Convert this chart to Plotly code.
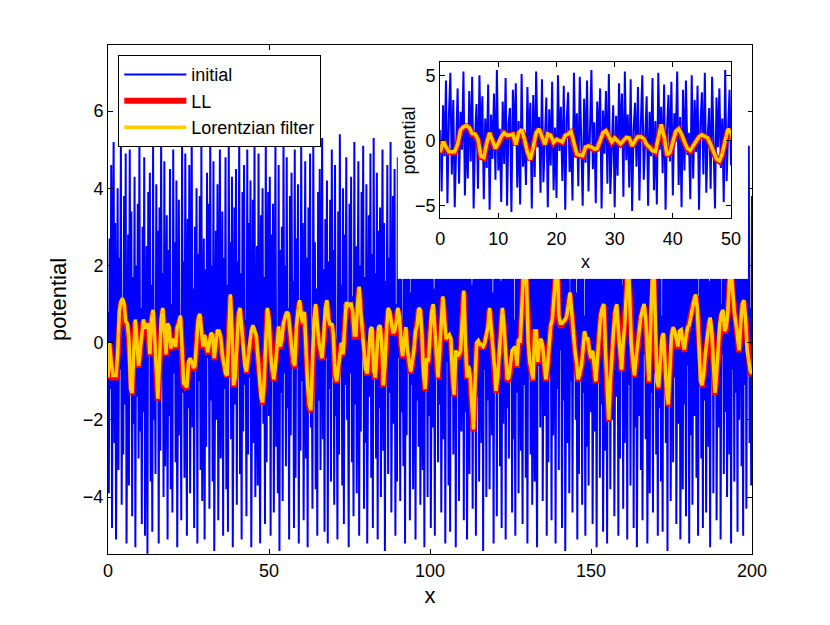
import numpy as np
import plotly.graph_objects as go

# initial random potential, sampled every 0.25 in x (0 .. 200)
initial = [
    0.8, -3.9, 2.7, -1.2, 4.6, -4.8, 1.9, 5.2, -2.6, 3.1, -5.1, 0.4, 4.0, -3.3, 2.2, -0.7, 5.3, -4.2, 1.1, -2.9,
    3.8, -1.6, 4.9, -5.2, 0.3, 2.8, -3.7, 5.0, -0.9, 3.4, -4.5, 1.7, -2.1, 4.3, -5.3, 2.0, -1.4, 3.6, -3.0, 5.4,
    -2.3, 0.9, -4.7, 3.0, -1.8, 4.8, -5.0, 1.3, 2.5, -5.47, 3.9, -0.2, 4.4, -3.6, 1.5, -4.9, 5.1, -2.0, 0.6, -3.4,
    4.1, -1.1, 2.9, -5.2, 3.5, -2.8, 5.3, -0.5, 1.8, -4.0, 4.7, -3.2, 0.1, 3.3, -5.1, 2.4, -1.9, 4.5, -3.8, 1.0,
    -4.4, 5.0, -0.8, 2.6, -3.1, 4.2, -5.3, 1.6, 3.7, -2.4, 0.5, -4.6, 5.2, -1.3, 2.1, -3.5, 4.9, -0.3, -5.0, 3.2,
    -1.7, 4.6, -3.9, 0.7, 5.4, -2.2, 1.4, -4.8, 3.0, -0.6, 4.0, -5.2, 2.3, -1.0, 3.8, -3.3, 5.1, -4.1, 0.2, 2.7,
    -5.1, 1.9, -2.7, 4.4, -0.4, 3.6, -4.3, 5.3, -1.5, 2.0, -3.6, 4.7, -5.4, 0.8, 2.9, -2.0, 4.1, -4.6, 1.2, 5.0,
    -3.0, 0.0, 3.4, -5.0, 2.2, -1.2, 4.8, -3.8, 1.5, -4.9, 5.2, -0.7, 2.6, -2.5, 4.3, -5.3, 0.9, 3.5, -1.6, 4.5,
    -4.2, 2.1, -0.1, 5.3, -3.4, 1.8, -5.1, 3.9, -2.3, 4.6, -1.1, 0.6, -4.5, 5.0, -2.9, 3.1, -0.9, 4.2, -5.3, 1.3,
    3.7, -2.6, 5.2, -4.0, 0.4, 2.5, -3.7, 4.9, -1.4, -5.2, 3.3, -0.5, 4.0, -2.1, 1.7, -4.7, 5.4, -3.1, 0.7, 3.9,
    -1.9, 4.3, -5.0, 2.8, -0.3, 3.6, -4.4, 1.0, 5.1, -2.7, 0.2, -3.9, 4.6, -5.4, 2.4, -1.3, 3.0, -4.1, 5.3, -0.8,
    2.0, -3.2, 4.8, -1.7, 0.9, -5.1, 3.8, -2.4, 4.4, -0.6, 1.6, -4.8, 5.0, -3.5, 2.7, -0.2, 4.1, -5.2, 1.1, -2.8,
    5.2, -1.0, 3.1, -4.6, 0.5, 4.7, -3.0, 2.2, -5.3, 3.5, -1.8, 4.9, -2.2, 0.3, -4.3, 5.1, -0.9, 2.6, -3.8, 1.4,
    -5.0, 3.9, -1.5, 4.5, -3.3, 0.8, 5.3, -2.5, 1.9, -4.9, 3.2, -0.4, 4.2, -5.2, 2.1, -1.2, 3.7, -3.6, 5.0, -0.7,
    2.4, -4.2, 4.6, -1.9, 0.1, -5.1, 3.4, -2.9, 5.4, -0.5, 1.5, -3.7, 4.0, -4.7, 2.8, -1.1, 4.8, -2.0, 0.6, -5.3,
    3.6, -0.8, 4.3, -3.1, 1.2, -4.5, 5.2, -1.6, 2.5, -3.9, 0.4, 4.7, -5.0, 2.0, -2.3, 3.9, -0.1, 5.1, -4.3, 1.7,
    -2.6, 4.1, -5.2, 0.9, 3.3, -1.4, 4.9, -3.5, 2.3, -4.8, 5.3, -0.6, 1.8, -3.0, 4.4, -5.1, 2.9, -1.7, 3.5, -4.0,
    0.7, 5.0, -2.8, 3.1, -5.4, 1.6, -0.9, 4.6, -3.4, 2.2, -1.3, 5.2, -4.4, 0.3, 3.8, -2.1, 4.5, -5.0, 1.0, -3.6,
    4.8, -0.4, 2.7, -4.1, 5.3, -1.8, 0.6, -3.2, 4.0, -5.2, 2.5, -2.4, 3.6, -0.7, 5.1, -4.6, 1.3, -1.1, 4.2, -3.8,
    0.2, 3.4, -5.1, 2.1, -1.5, 4.7, -2.7, 5.0, -4.2, 0.8, 3.0, -3.3, 1.9, -5.3, 4.4, -0.3, 2.6, -4.0, 5.2, -1.9,
    3.9, -4.8, 0.5, 4.1, -2.2, 1.4, -5.0, 3.7, -0.8, 5.3, -3.1, 2.4, -1.6, 4.6, -4.4, 0.9, 3.2, -2.5, 4.9, -5.2,
    1.7, -0.5, 4.3, -3.7, 2.0, -4.9, 5.1, -1.2, 3.5, -2.9, 0.4, 4.8, -5.3, 2.2, -0.9, 3.8, -4.1, 1.1, 5.2, -2.3,
    -0.1, 3.0, -4.6, 4.5, -1.8, 2.7, -5.1, 0.7, 4.0, -3.4, 5.3, -2.0, 1.5, -4.3, 3.3, -0.6, 4.7, -5.0, 2.4, -1.4,
    5.0, -3.6, 0.8, 3.9, -2.6, 4.4, -5.4, 1.9, -0.7, 3.2, -4.0, 5.1, -1.5, 2.8, -3.8, 0.2, 4.6, -2.4, 1.3, -5.2,
    3.6, -1.0, 4.9, -4.5, 2.1, -0.3, 5.2, -3.2, 1.6, -4.8, 3.7, -2.1, 0.5, 4.3, -5.1, 2.5, -1.7, 4.0, -3.0, 5.3,
    -0.9, 2.2, -4.4, 4.8, -2.5, 0.6, -5.0, 3.4, -1.3, 5.0, -3.9, 1.2, 4.1, -2.8, 0.0, -4.7, 5.4, -1.1, 3.1, -3.5,
    4.5, -5.2, 1.8, -0.4, 3.8, -2.9, 5.1, -4.2, 0.9, 2.6, -3.6, 4.7, -1.6, -5.3, 3.3, -0.6, 4.2, -2.2, 1.4, 5.2,
    -4.1, 0.3, 3.5, -1.9, 4.9, -5.0, 2.3, -3.1, 5.3, -0.8, 1.7, -4.6, 4.0, -2.4, 0.6, 3.9, -5.2, 2.8, -1.2, 4.4,
    -3.3, 5.0, -0.2, 2.0, -4.8, 3.6, -1.5, 4.6, -5.4, 1.0, 3.2, -2.6, 4.8, -3.9, 0.4, -1.0, 5.1, -4.4, 2.5, -0.5,
    4.1, -2.0, 1.3, -5.1, 3.7, -3.4, 5.2, -0.9, 2.4, -4.2, 4.5, -1.3, 0.7, -5.0, 3.0, -2.7, 4.9, -3.7, 1.6, 5.3,
    -1.8, 3.4, -4.7, 0.6, 4.2, -2.3, 1.9, -5.3, 3.9, -0.4, 5.0, -3.5, 2.2, -1.6, 4.4, -4.9, 0.8, 3.1, -2.8, 4.7,
    -5.2, 2.6, -0.7, 4.0, -3.8, 1.1, 5.4, -2.0, 3.3, -4.5, 0.3, 4.6, -1.4, 2.0, -5.0, 3.8, -3.0, 5.1, -0.2, 1.5,
    -4.3, 4.8, -2.6, 0.9, 3.6, -5.1, 2.3, -1.1, 5.2, -3.7, 1.4, -0.6, 4.3, -4.8, 3.0, -2.2, 5.0, -5.3, 0.5, 2.9,
    -1.9, 4.5, -3.3, 1.7, -4.6, 5.3, -0.3, 3.5, -2.5, 4.1, -5.2, 0.8, 2.6, -3.9, 4.9, -1.3, 0.2, -4.4, 3.8, -0.8,
    5.1, -2.9, 2.1, -5.0, 3.9, -1.7, 4.6, -3.6, 0.7, -4.9, 5.3, -0.5, 1.9, -2.6, 4.2, -5.4, 2.8, -1.0, 3.4, -4.1,
    0.4, 4.9, -3.1, 2.5, -0.9, 5.2, -4.7, 1.3, 3.7, -2.1, 4.3, -5.1, 0.0, 3.1, -3.8, 4.8, -1.6, 2.2, -4.5, 5.0,
    -0.6, 1.8, -5.2, 4.0, -2.4, 3.3, -4.2, 0.6, 5.3, -1.9, 2.7, -3.5, 4.6, -5.0, 1.2, -0.8, 4.1, -3.0, 2.0, -4.8,
    5.1, -1.5, 3.6, -4.4, 0.9, 4.4, -2.7, 1.6, -5.3, 3.2, -0.4, 4.8, -3.9, 2.4, -1.2, 5.0, -4.6, 0.3, 3.5, -2.2,
    4.2, -5.1, 1.0, -0.3, 4.7, -3.4, 2.9, -1.8, 5.2, -4.0, 0.7, 3.8, -2.9, 4.5, -5.2, 1.5, -0.7, 3.0, -3.6, 5.3,
    -1.3, 2.4, -4.9, 4.0, -2.0, 0.5, 5.0, -3.2, 1.9, -5.0, 3.6, -1.1, 4.7, -4.3, 2.2, -0.4, 5.1, -2.6, 0.9, -3.7,
    3.8,
]

# LL result, sampled every 0.5 in x
ll = [
    -0.95, -0.05, -0.55, -0.9, -0.9, -0.9, -0.35, 0.75, 1.0, 1.1, 0.95, 0.5, 0.45, 0.05, -1.25, -1.35, -0.25, 0.55, -0.05, -0.65,
    -0.25, 0.25, 0.55, 0.35, 0.37, 0.45, -0.35, 0.55, 0.8, 0.05, -0.95, -1.5, -0.55, 0.55, 0.85, 0.25, -0.35, 0.45, 0.35, -0.2,
    0.05, -0.05, -0.15, 0.35, 0.45, 0.65, -0.35, -1.1, -1.15, -1.2, -0.55, -0.45, -0.55, -0.7, -0.65, 0.05, 0.55, 0.7, 0.25, -0.15,
    0.15, -0.05, -0.3, -0.05, 0.2, 0.15, -0.45, -0.05, 0.25, 0.25, 0.1, -0.35, -0.55, -0.85, -0.9, 0.15, 1.2, 0.25, -1.15, -0.95,
    -0.05, 0.65, 0.85, 0.45, -0.15, -0.65, -0.8, -0.45, -0.05, 0.25, 0.4, 0.25, 0.15, -0.35, -0.95, -1.45, -1.6, -1.05, -0.05, 0.85,
    0.55, -0.35, -0.75, -1.0, -0.65, -0.05, 0.37, -0.15, 0.05, 0.45, 0.6, 0.75, 0.7, 0.2, -0.15, -0.55, -0.65, 0.35, 0.75, 1.05,
    0.65, 0.45, 0.75, -0.25, -1.15, -1.65, -1.8, -0.55, 0.55, 0.95, 0.35, -0.05, -0.25, -0.45, 0.15, 0.85, 1.05, 0.55, 0.4, 0.45,
    0.15, -0.85, -1.05, -0.65, -0.25, -0.05, -0.35, 0.55, 1.0, 0.9, 0.95, 0.95, 0.75, 0.15, 0.15, 0.95, 1.4, 0.75, 0.25, -0.15,
    -0.75, -0.85, -0.35, 0.3, 0.35, -0.75, -0.95, -0.25, 0.35, 0.4, -0.05, -1.15, -0.65, 0.25, 0.85, 0.75, 0.45, 0.2, 0.25, 0.45,
    0.85, 0.65, -0.05, -0.4, 0.05, 0.35, -0.25, -0.55, -0.8, -0.55, -0.25, 0.25, 0.4, 0.85, 0.8, 0.15, -0.85, -1.25, -0.45, -0.55,
    0.25, 0.75, 0.95, 0.15, -0.35, -0.95, -0.35, 0.45, 1.15, 0.55, 0.05, 0.1, 0.15, 0.05, -0.95, -1.4, -0.25, -0.4, -0.35, -0.25,
    0.55, 1.3, -0.05, -0.95, -0.65, -0.95, -1.65, -2.3, -1.05, -0.05, 0.0, -0.1, -0.1, -0.15, -0.05, 0.15, 0.35, 0.85, 0.45, -0.15,
    -0.65, -1.3, -0.95, -0.35, 0.45, 0.85, 0.35, -0.45, -1.0, -0.95, -0.6, -0.25, -0.2, -0.15, -0.65, 0.05, -0.05, 0.75, 1.85, 2.55,
    1.45, -0.05, -0.55, -0.75, -1.0, 0.25, 0.25, -0.55, -0.05, 0.05, -0.15, -0.65, -1.0, -0.65, 0.05, 0.4, 0.55, 1.15, 1.55, 2.25,
    0.65, 0.45, 0.45, 0.5, 0.55, 0.65, 0.95, 1.25, 0.75, 0.2, -0.25, -0.55, -1.0, -0.85, -0.65, -0.25, 0.25, 0.05, 0.05, -0.25,
    -0.45, -0.25, -0.65, -1.05, -0.45, 0.25, 0.65, 0.85, 0.95, -0.25, -1.25, -2.05, -1.05, -0.25, 0.25, 0.75, 0.95, 0.25, -0.35, -0.75,
    -0.05, 0.45, 1.25, 2.15, 1.15, -0.05, -0.55, -0.9, -0.45, -0.05, 0.25, 0.63, 0.8, 0.95, 0.55, -0.25, -1.05, 0.35, 1.55, 1.95,
    -0.05, -1.05, -1.2, -0.45, 0.05, 0.2, -0.55, -1.35, -1.65, -0.65, 0.15, 0.35, 0.25, 0.05, -0.15, 0.25, 0.28, -0.05, -0.23, 0.1,
    0.35, 0.4, 0.65, 0.9, 1.05, 1.2, 0.85, -0.05, -1.05, -1.15, -0.85, -0.35, 0.05, 0.35, 0.6, 0.25, -0.55, -1.35, -0.85, -0.15,
    0.45, 0.7, 0.8, 0.25, 0.35, 0.75, 1.55, 1.85, 1.25, 0.75, 0.45, 0.15, -0.25, 0.45, 0.95, 1.05, 0.55, -0.25, -0.55, -0.8,
    -0.85,
]

# Lorentzian filter of the initial potential, sampled every 0.5 in x
lorentz = [
    -0.9, 0.0, -0.5, -0.85, -0.85, -0.85, -0.3, 0.8, 1.05, 1.15, 1.0, 0.55, 0.5, 0.1, -1.2, -1.3, -0.2, 0.6, 0.0, -0.6,
    -0.2, 0.3, 0.6, 0.4, 0.42, 0.5, -0.3, 0.6, 0.85, 0.1, -0.9, -1.45, -0.5, 0.6, 0.9, 0.3, -0.3, 0.5, 0.4, -0.15,
    0.1, 0.0, -0.1, 0.4, 0.5, 0.7, -0.3, -1.05, -1.1, -1.15, -0.5, -0.4, -0.5, -0.65, -0.6, 0.1, 0.6, 0.75, 0.3, -0.1,
    0.2, 0.0, -0.25, 0.0, 0.25, 0.2, -0.4, 0.0, 0.3, 0.3, 0.15, -0.3, -0.5, -0.8, -0.85, 0.2, 1.25, 0.3, -1.1, -0.9,
    0.0, 0.7, 0.9, 0.5, -0.1, -0.6, -0.75, -0.4, 0.0, 0.3, 0.45, 0.3, 0.2, -0.3, -0.9, -1.4, -1.55, -1.0, 0.0, 0.9,
    0.6, -0.3, -0.7, -0.95, -0.6, 0.0, 0.42, -0.1, 0.1, 0.5, 0.65, 0.8, 0.75, 0.25, -0.1, -0.5, -0.6, 0.4, 0.8, 1.1,
    0.7, 0.5, 0.8, -0.2, -1.1, -1.6, -1.75, -0.5, 0.6, 1.0, 0.4, 0.0, -0.2, -0.4, 0.2, 0.9, 1.1, 0.6, 0.45, 0.5,
    0.2, -0.8, -1.0, -0.6, -0.2, 0.0, -0.3, 0.6, 1.05, 0.95, 1.0, 1.0, 0.8, 0.2, 0.2, 1.0, 1.45, 0.8, 0.3, -0.1,
    -0.7, -0.8, -0.3, 0.35, 0.4, -0.7, -0.9, -0.2, 0.4, 0.45, 0.0, -1.1, -0.6, 0.3, 0.9, 0.8, 0.5, 0.25, 0.3, 0.5,
    0.9, 0.7, 0.0, -0.35, 0.1, 0.4, -0.2, -0.5, -0.75, -0.5, -0.2, 0.3, 0.45, 0.9, 0.85, 0.2, -0.8, -1.2, -0.4, -0.5,
    0.3, 0.8, 1.0, 0.2, -0.3, -0.9, -0.3, 0.5, 1.2, 0.6, 0.1, 0.15, 0.2, 0.1, -0.9, -1.35, -0.2, -0.35, -0.3, -0.2,
    0.6, 1.35, 0.0, -0.9, -0.6, -0.9, -1.6, -2.25, -1.0, 0.0, 0.05, -0.05, -0.05, -0.1, 0.0, 0.2, 0.4, 0.9, 0.5, -0.1,
    -0.6, -1.25, -0.9, -0.3, 0.5, 0.9, 0.4, -0.4, -0.95, -0.9, -0.55, -0.2, -0.15, -0.1, -0.6, 0.1, 0.0, 0.8, 1.9, 2.6,
    1.5, 0.0, -0.5, -0.7, -0.95, 0.3, 0.3, -0.5, 0.0, 0.1, -0.1, -0.6, -0.95, -0.6, 0.1, 0.45, 0.6, 1.2, 1.6, 2.3,
    0.7, 0.5, 0.5, 0.55, 0.6, 0.7, 1.0, 1.3, 0.8, 0.25, -0.2, -0.5, -0.95, -0.8, -0.6, -0.2, 0.3, 0.1, 0.1, -0.2,
    -0.4, -0.2, -0.6, -1.0, -0.4, 0.3, 0.7, 0.9, 1.0, -0.2, -1.2, -2.0, -1.0, -0.2, 0.3, 0.8, 1.0, 0.3, -0.3, -0.7,
    0.0, 0.5, 1.3, 2.2, 1.2, 0.0, -0.5, -0.85, -0.4, 0.0, 0.3, 0.68, 0.85, 1.0, 0.6, -0.2, -1.0, 0.4, 1.6, 2.0,
    0.0, -1.0, -1.15, -0.4, 0.1, 0.25, -0.5, -1.3, -1.6, -0.6, 0.2, 0.4, 0.3, 0.1, -0.1, 0.3, 0.33, 0.0, -0.18, 0.15,
    0.4, 0.45, 0.7, 0.95, 1.1, 1.25, 0.9, 0.0, -1.0, -1.1, -0.8, -0.3, 0.1, 0.4, 0.65, 0.3, -0.5, -1.3, -0.8, -0.1,
    0.5, 0.75, 0.85, 0.3, 0.4, 0.8, 1.6, 1.9, 1.3, 0.8, 0.5, 0.2, -0.2, 0.5, 1.0, 1.1, 0.6, -0.2, -0.5, -0.75,
    -0.8,
]

x_init = np.linspace(0, 200, len(initial))
x_ll = np.linspace(0, 200, len(ll))
x_lor = np.linspace(0, 200, len(lorentz))

FONT = "Liberation Sans, Arial, sans-serif"
BLUE = "#0000FF"
RED = "#FF0000"
GOLD = "#FFCC00"

fig = go.Figure()

# main axes
fig.add_trace(go.Scatter(x=x_init, y=initial, mode="lines", name="initial",
                         line=dict(color=BLUE, width=2)))
fig.add_trace(go.Scatter(x=x_ll, y=ll, mode="lines", name="LL",
                         line=dict(color=RED, width=6)))
fig.add_trace(go.Scatter(x=x_lor, y=lorentz, mode="lines", name="Lorentzian filter",
                         line=dict(color=GOLD, width=3.5)))

# empty white panel behind the inset (covers the main plot there)
fig.add_trace(go.Scatter(x=[], y=[], xaxis="x2", yaxis="y2", showlegend=False))

# inset axes, same data zoomed on 0..50
fig.add_trace(go.Scatter(x=x_init, y=initial, mode="lines", showlegend=False,
                         line=dict(color=BLUE, width=2), xaxis="x3", yaxis="y3"))
fig.add_trace(go.Scatter(x=x_ll, y=ll, mode="lines", showlegend=False,
                         line=dict(color=RED, width=6), xaxis="x3", yaxis="y3"))
fig.add_trace(go.Scatter(x=x_lor, y=lorentz, mode="lines", showlegend=False,
                         line=dict(color=GOLD, width=3.5), xaxis="x3", yaxis="y3"))

axis_common = dict(showline=True, linecolor="black", linewidth=1, mirror="ticks",
                   ticks="inside", ticklen=5, tickcolor="black", showgrid=False,
                   zeroline=False, tickfont=dict(size=18, color="black"))

fig.update_layout(
    width=814, height=609,
    margin=dict(l=100, r=70, t=37, b=63),
    paper_bgcolor="white", plot_bgcolor="white",
    font=dict(family=FONT, size=18, color="black"),
    showlegend=True,
    legend=dict(x=0.016, y=0.98, xanchor="left", yanchor="top",
                bgcolor="white", bordercolor="black", borderwidth=1,
                font=dict(size=18), tracegroupgap=0, itemwidth=62),
    xaxis=dict(domain=[0, 1], range=[0, 200], tickvals=[0, 50, 100, 150, 200],
               title=dict(text="x", standoff=8), **axis_common),
    yaxis=dict(domain=[0, 1], range=[-5.475, 7.71], tickvals=[-4, -2, 0, 2, 4, 6],
               title=dict(text="potential", standoff=10), **axis_common),
    xaxis2=dict(domain=[0.450, 0.9937], anchor="y2", visible=False, range=[0, 1]),
    yaxis2=dict(domain=[0.5405, 1.0], anchor="x2", visible=False, range=[0, 1]),
    xaxis3=dict(domain=[0.5158, 0.9674], anchor="y3", range=[0, 50],
                tickvals=[0, 10, 20, 30, 40, 50], ticklabelstandoff=5, **axis_common),
    yaxis3=dict(domain=[0.661, 0.966], anchor="x3", range=[-5.9, 6.0],
                tickvals=[-5, 0, 5], **axis_common),
    annotations=[
        dict(text="x", xref="paper", yref="paper", x=0.7416, y=0.574,
             xanchor="center", yanchor="middle", showarrow=False,
             font=dict(size=18)),
        dict(text="potential", xref="paper", yref="paper", x=0.468, y=0.813,
             xanchor="center", yanchor="middle", textangle=-90, showarrow=False,
             font=dict(size=18)),
    ],
)

fig.write_html("out.html")
